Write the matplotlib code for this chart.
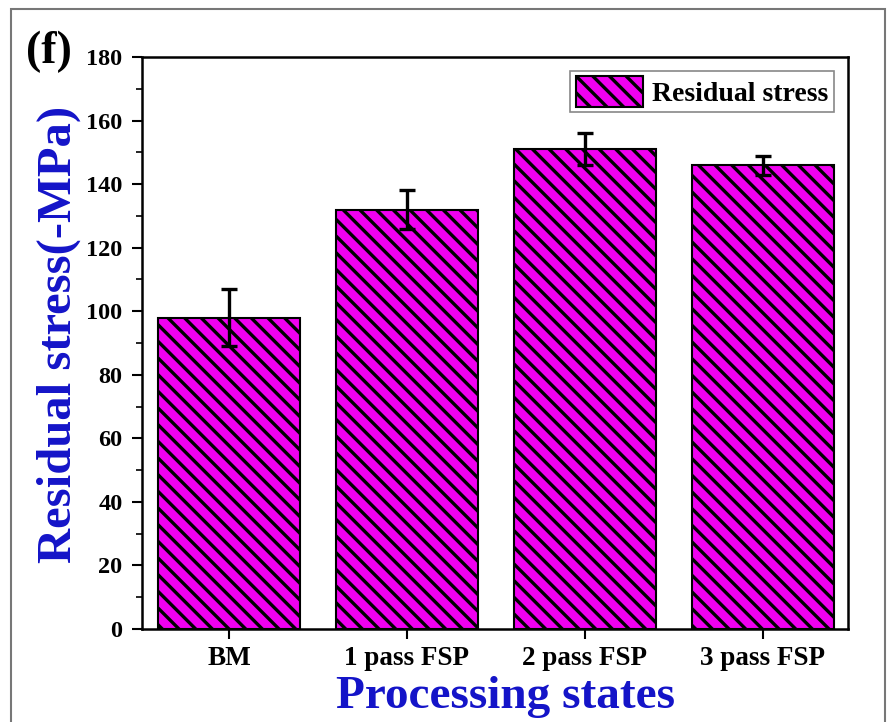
import numpy as np
import matplotlib
matplotlib.use('Agg')
import matplotlib.pyplot as plt
from matplotlib.patches import Rectangle
from matplotlib.ticker import MultipleLocator

states = ['BM', '1 pass FSP', '2 pass FSP', '3 pass FSP']
stress = [98, 132, 151, 146]
err = [9, 6, 5, 3]

plt.rcParams['font.family'] = ['Liberation Serif', 'DejaVu Serif']
plt.rcParams['font.weight'] = 'bold'
plt.rcParams['hatch.linewidth'] = 2.4
plt.rcParams['hatch.color'] = 'black'

blue = '#1414c8'
fig = plt.figure(figsize=(8.89, 7.22), dpi=100)
ax = fig.add_axes([0.1597, 0.1288, 0.7943, 0.7922])

x = np.arange(len(states))
ax.bar(x, stress, width=0.8, color='#f000f0', edgecolor='black', linewidth=1.5,
       hatch='\\\\', label='Residual stress', zorder=2)
ax.errorbar(x, stress, yerr=err, fmt='none', ecolor='black', elinewidth=2.4,
            capsize=6, capthick=2.4, zorder=3)

ax.set_xlim(-0.49, 3.48)
ax.set_ylim(0, 180)
ax.set_xticks(x)
ax.set_xticklabels(states)
ax.yaxis.set_major_locator(MultipleLocator(20))
ax.yaxis.set_minor_locator(MultipleLocator(10))
ax.tick_params(axis='both', which='major', direction='out', length=7, width=1.5, pad=7)
ax.tick_params(axis='y', which='minor', direction='out', length=4, width=1.2)
ax.tick_params(axis='x', labelsize=19.5, pad=5)
ax.tick_params(axis='y', labelsize=17.5)
for lab in ax.get_xticklabels() + ax.get_yticklabels():
    lab.set_fontweight('bold')
for s in ax.spines.values():
    s.set_linewidth(1.8)

ax.set_ylabel('Residual stress(-MPa)', fontsize=35, fontweight='bold', color=blue)
ax.yaxis.set_label_coords(-0.087, 0.515)
ax.set_xlabel('Processing states', fontsize=34, fontweight='bold', color=blue)
ax.xaxis.set_label_coords(0.515, -0.083)
ax.xaxis.label.set_va('top')

leg = ax.legend(loc='upper right', handlelength=2.4, handleheight=1.3, handletextpad=0.35,
                borderpad=0.2, fancybox=False, edgecolor='#888888', framealpha=1,
                borderaxespad=0.5, prop={'weight': 'bold', 'size': 20})
leg.get_frame().set_linewidth(1.2)

fig.text(0.029, 0.958, '(f)', fontsize=33, fontweight='bold', va='top')
fig.patches.append(Rectangle((0.012, -0.02), 0.983, 1.008, transform=fig.transFigure,
                             fill=False, edgecolor='#777777', linewidth=1.5))

fig.savefig('out.png', dpi=100)
